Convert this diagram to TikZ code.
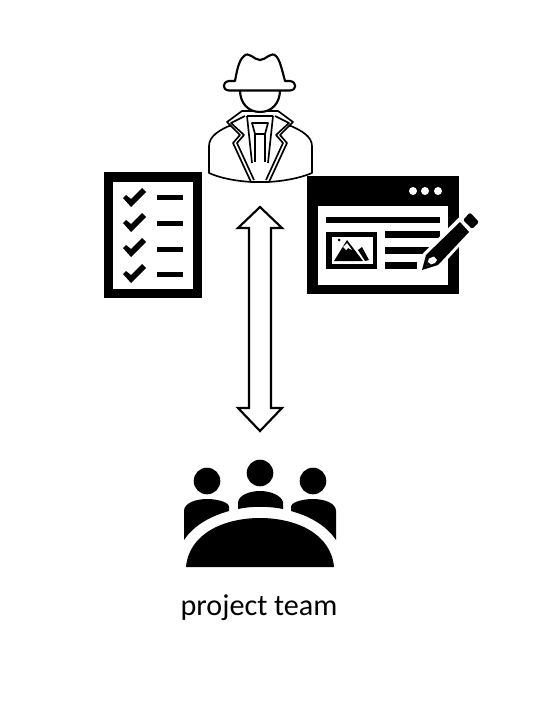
\documentclass[tikz,border=0pt]{standalone}
\usepackage{fontspec}
\setmainfont{Carlito}
\usepackage{tikz}
\tikzset{
  outline/.style={draw=black, line width=1.6pt, line join=miter, fill=white},
  thinline/.style={draw=black, line width=1.25pt, line join=round},
  thickline/.style={draw=black, line width=1.6pt, line join=round},
  solid black/.style={fill=black, draw=none},
  paper/.style={fill=white, draw=none}
}
\begin{document}
\begin{tikzpicture}[x=0.75pt, y=-0.75pt, inner sep=0pt]
\useasboundingbox (0,0) rectangle (552,720);

% Double arrow between the investigator and the team
\coordinate (top tip) at (260,207);
\coordinate (bottom tip) at (260,431);
\draw[outline] (top tip) -- (282,228) -- (271,228) -- (271,408) -- (282,408)
  -- (bottom tip) -- (238,408) -- (249,408) -- (249,228) -- (238,228) -- cycle;

% Investigator: coat, collar, tie, face, hat
\draw[thinline, fill=white] (209,146) .. controls (209,136) and (220,130) .. (229,126)
  -- (291,126) .. controls (300,130) and (312,136) .. (312,146)
  -- (312,173) .. controls (300,178) and (285,181) .. (268,182)
  -- (252,182) .. controls (235,181) and (220,178) .. (209,173) -- cycle;
\draw[thinline, fill=white] (242,111) -- (227,122) -- (240,135) -- (233,143) -- (251,182)
  -- (269,182) -- (287,143) -- (280,135) -- (293,122) -- (278,111) -- cycle;
\draw[thinline] (245,116) -- (231,123) -- (244,135) -- (237,143) -- (254,180);
\draw[thinline] (275,116) -- (289,123) -- (276,135) -- (283,143) -- (266,180);
\draw[thinline] (247,116) -- (252,163) (273,116) -- (268,163) (247,116) -- (273,116);
\draw[thinline] (252,123) -- (268,123) -- (265,134) -- (255,134) -- cycle;
\draw[thinline] (255,134) -- (255,162) (265,134) -- (265,162);
\draw[thickline, fill=white] (240,90) .. controls (240,103) and (248,112) .. (260,112)
  .. controls (272,112) and (280,103) .. (280,90);
\draw[thickline, fill=white] (235,81) .. controls (237,70) and (239,60) .. (244,56)
  .. controls (249,51) and (254,60) .. (260,60)
  .. controls (266,60) and (271,51) .. (276,56)
  .. controls (280,60) and (282,70) .. (285,81)
  -- (290,81) .. controls (297,82) and (297,90) .. (290,90.5)
  -- (229,90.5) .. controls (222,90) and (222,82) .. (229,81) -- cycle;

% Checklist
\fill[solid black] (104,172) rectangle (202,298);
\fill[paper] (113,182) rectangle (193,289);
\foreach \rowy/\liney in {198/198, 223/224, 248/249, 274/274} {
  \fill[solid black] (123,\rowy) -- (126,\rowy-3) -- (131,\rowy+1) -- (142,\rowy-10)
    -- (146,\rowy-6) -- (131,\rowy+9) -- cycle;
  \fill[solid black] (157,\liney-2.5) rectangle (183,\liney+2.5);
}

% Browser window with pencil
\fill[solid black] (307,176) rectangle (459,294);
\fill[paper] (318,206) rectangle (448,285);
\foreach \dotx in {413,425,438} {
  \fill[white] (\dotx,191) circle (4);
}
\fill[solid black] (326,217) rectangle (440,223);
\fill[solid black] (326,232) rectangle (377,269);
\fill[paper] (332,237) rectangle (373,264);
\fill[solid black] (339,240) circle (1.5);
\fill[solid black] (334,261) -- (347,240) -- (363,261) -- cycle;
\fill[paper] (343,247) -- (347,243) -- (352,250) -- (348,248) -- (346,250) -- cycle;
\fill[solid black] (358,250) -- (362,247) -- (369,260) -- (365,261) -- cycle;
\fill[solid black] (385,231) rectangle (440,238);
\fill[solid black] (385,247) rectangle (430,254);
\fill[solid black] (385,262) rectangle (417,269);

% Pencil, white halo first
\draw[white, line width=5pt, line join=round, fill=white] (422,270) -- (426,255) -- (460,221)
  -- (470,213) -- (478,222) -- (468,232) -- (438,265) -- cycle;
\fill[solid black] (422,270) -- (426,255) -- (460,222) -- (469,232) -- (438,265) -- cycle;
\fill[solid black, rounded corners=1.5pt] (463,220) -- (470,212.5) -- (479,222) -- (472,229) -- cycle;
\fill[paper] (426.5,266) -- (429,258.5) -- (434,256.5) -- (437,260) -- (435,263) -- cycle;
\fill[solid black] (426.5,266) -- (427.8,262) -- (431,264.5) -- cycle;

% Project team around a table
\fill[solid black] (207,481) circle (13.3);
\fill[solid black] (260,473) circle (13.3);
\fill[solid black] (313,481) circle (13.3);
\fill[solid black] (238,509) -- (238,502) .. controls (239,495) and (250,491) .. (260,491)
  .. controls (270,491) and (281,495) .. (283,502) -- (283,509)
  .. controls (268,506) and (252,506) .. (238,509) -- cycle;
\fill[solid black] (184,540) -- (184,511) .. controls (184,503) and (196,499) .. (207,499)
  .. controls (217,499) and (229,502) .. (229,507) -- (229,511)
  .. controls (211,516) and (194,525) .. (184,540) -- cycle;
\fill[solid black] (336,540) -- (336,511) .. controls (336,503) and (324,499) .. (313,499)
  .. controls (303,499) and (291,502) .. (291,507) -- (291,511)
  .. controls (309,516) and (326,525) .. (336,540) -- cycle;
\fill[solid black] (186,567) .. controls (189,533) and (225,518) .. (260,518)
  .. controls (295,518) and (331,533) .. (334,567) -- cycle;
\node (team label) at (259,607.5) {\fontsize{22.6}{27}\selectfont project team};

\end{tikzpicture}
\end{document}
